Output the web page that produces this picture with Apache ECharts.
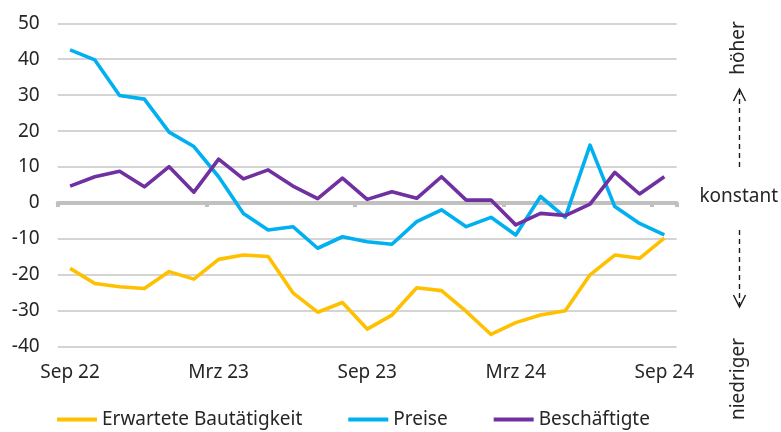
<!DOCTYPE html>
<html>
<head>
<meta charset="utf-8">
<script src="https://cdn.jsdelivr.net/npm/echarts@6/dist/echarts.min.js"></script>
<style>
  html, body { margin: 0; padding: 0; background: #fff; }
  #chart { width: 781px; height: 432px; }
</style>
</head>
<body>
<div id="chart"></div>
<script>
// Monthly survey balances, Sep 2022 – Sep 2024
const months = [
  'Sep 22', 'Okt 22', 'Nov 22', 'Dez 22', 'Jan 23', 'Feb 23', 'Mrz 23', 'Apr 23', 'Mai 23',
  'Jun 23', 'Jul 23', 'Aug 23', 'Sep 23', 'Okt 23', 'Nov 23', 'Dez 23', 'Jan 24', 'Feb 24',
  'Mrz 24', 'Apr 24', 'Mai 24', 'Jun 24', 'Jul 24', 'Aug 24', 'Sep 24'
];
const bautaetigkeit = [
  -18.2, -22.4, -23.3, -23.8, -19.1, -21.2, -15.7, -14.5, -14.9, -25.0, -30.4, -27.7, -35.1,
  -31.2, -23.6, -24.4, -30.2, -36.6, -33.3, -31.2, -30.0, -20.0, -14.5, -15.4, -9.8
];
const preise = [
  42.6, 39.8, 29.9, 28.9, 19.7, 15.7, 7.3, -2.9, -7.5, -6.6, -12.6, -9.4, -10.8,
  -11.5, -5.2, -1.9, -6.6, -4.0, -8.9, 1.8, -4.0, 16.1, -1.0, -5.7, -8.9
];
const beschaeftigte = [
  4.7, 7.3, 8.8, 4.5, 10.1, 3.0, 12.2, 6.7, 9.2, 4.7, 1.2, 6.9, 1.0,
  3.1, 1.3, 7.3, 0.8, 0.8, -6.1, -2.9, -3.5, -0.3, 8.5, 2.5, 7.3
];
const seriesNames = ['Erwartete Bautätigkeit', 'Preise', 'Beschäftigte'];
const seriesColors = ['#FFC000', '#00B0F0', '#7030A0'];
const yTicks = { min: -40, max: 50, step: 10 };

const FONT = '"Noto Sans", "Open Sans", sans-serif';
const FONT_SIZE = 19;
const TEXT = '#262626';
const GRID_GRAY = '#c6c6c6';
const AXIS_GRAY = '#c0c0c0';

const chart = echarts.init(document.getElementById('chart'), null, { renderer: 'canvas' });

const seriesData = [bautaetigkeit, preise, beschaeftigte];

const arrowStyle = { stroke: '#1a1a1a', lineWidth: 1.4, fill: null };
const labelFont = FONT_SIZE + 'px ' + FONT;

chart.setOption({
  animation: false,
  backgroundColor: '#fff',
  textStyle: { fontFamily: FONT },
  grid: { left: 57.7, right: 104.3, top: 23.3, bottom: 85.3, containLabel: false },
  legend: {
    left: 57,
    top: 410,
    padding: 0,
    icon: 'rect',
    itemWidth: 40,
    itemHeight: 4,
    itemGap: 46,
    textStyle: { fontFamily: FONT, fontSize: FONT_SIZE, color: TEXT },
    data: seriesNames
  },
  xAxis: [
    {
      // zero line with half-year ticks
      type: 'category',
      data: months,
      boundaryGap: true,
      axisLine: { show: true, onZero: true, lineStyle: { color: AXIS_GRAY, width: 4 } },
      axisTick: { show: true, interval: 5, length: 4, lineStyle: { color: AXIS_GRAY, width: 4 } },
      axisLabel: { show: false },
      splitLine: { show: false }
    },
    {
      // month labels along the bottom edge
      type: 'category',
      data: months,
      boundaryGap: true,
      position: 'bottom',
      axisLine: { show: false, onZero: false },
      axisTick: { show: false },
      axisLabel: {
        interval: 5,
        margin: 16,
        fontFamily: FONT,
        fontSize: FONT_SIZE,
        color: TEXT
      },
      splitLine: { show: false }
    }
  ],
  yAxis: {
    type: 'value',
    min: yTicks.min,
    max: yTicks.max,
    interval: yTicks.step,
    axisLine: { show: false },
    axisTick: { show: false },
    axisLabel: { margin: 18, fontFamily: FONT, fontSize: FONT_SIZE, color: TEXT },
    splitLine: { show: true, lineStyle: { color: GRID_GRAY, width: 1.5 } }
  },
  series: seriesNames.map((name, i) => ({
    name,
    type: 'line',
    xAxisIndex: 0,
    data: seriesData[i],
    symbol: 'none',
    smooth: false,
    color: seriesColors[i],
    lineStyle: { width: 3.6, color: seriesColors[i], join: 'round' },
    emphasis: { disabled: true }
  })),
  graphic: [
    // direction labels beside the value axis
    {
      type: 'text', x: 739, y: 48, rotation: Math.PI / 2,
      style: { text: 'höher', font: labelFont, fill: TEXT, align: 'center', verticalAlign: 'middle' }
    },
    {
      type: 'text', x: 778, y: 197,
      style: { text: 'konstant', font: labelFont, fill: TEXT, align: 'right', verticalAlign: 'middle' }
    },
    {
      type: 'text', x: 739, y: 379, rotation: Math.PI / 2,
      style: { text: 'niedriger', font: labelFont, fill: TEXT, align: 'center', verticalAlign: 'middle' }
    },
    // upward dashed arrow
    {
      type: 'line', shape: { x1: 739.5, y1: 90, x2: 739.5, y2: 170 },
      style: { stroke: '#1a1a1a', lineWidth: 1.4, lineDash: [5, 4] }
    },
    {
      type: 'polyline', shape: { points: [[733.5, 101], [739.5, 89], [745.5, 101]] },
      style: arrowStyle
    },
    // downward dashed arrow
    {
      type: 'line', shape: { x1: 739.5, y1: 230, x2: 739.5, y2: 306 },
      style: { stroke: '#1a1a1a', lineWidth: 1.4, lineDash: [5, 4] }
    },
    {
      type: 'polyline', shape: { points: [[733.5, 295], [739.5, 307], [745.5, 295]] },
      style: arrowStyle
    }
  ]
});
</script>
</body>
</html>
